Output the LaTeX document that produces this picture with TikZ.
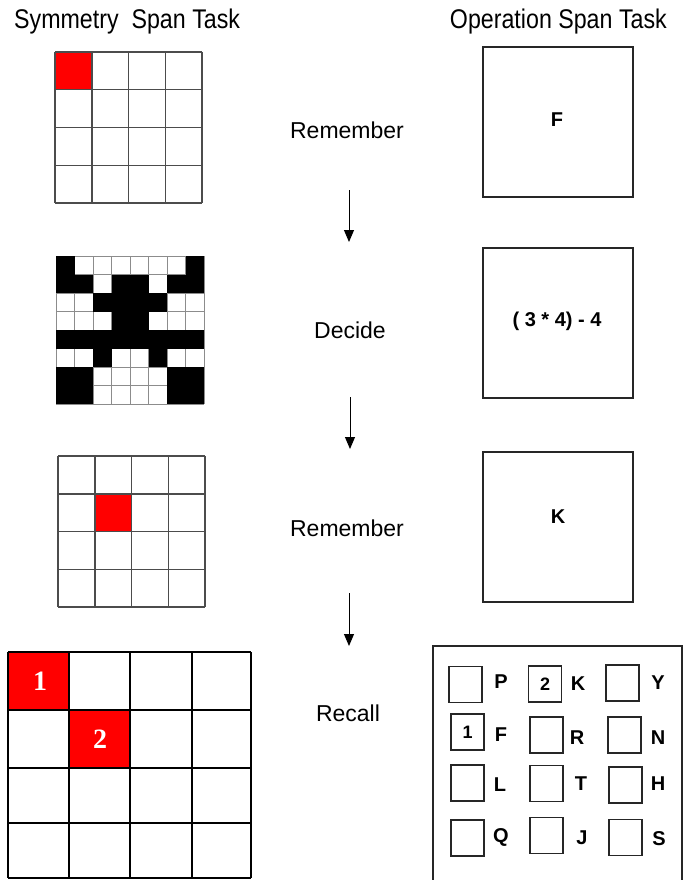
\documentclass[tikz,border=0pt]{standalone}
\usepackage{fontspec}
\setmainfont{Liberation Sans}
\newfontfamily\numserif{Liberation Serif}
\newfontfamily\hdrfont{Liberation Sans}[FakeStretch=0.86]
\usetikzlibrary{arrows.meta}
\begin{document}
\begin{tikzpicture}[x=1pt,y=-1pt,
  lbl/.style={font=\fontsize{23}{26}\selectfont, inner sep=0},
  hdr/.style={font=\hdrfont\fontsize{27}{30}\selectfont, inner sep=0},
  opbox/.style={draw=black!85, line width=1.6, minimum width=150, minimum height=150, inner sep=0},
  sbox/.style={draw=black!85, line width=1.6, minimum width=33, minimum height=36, inner sep=0, font=\bfseries\fontsize{18}{20}\selectfont},
  boxletter/.style={font=\bfseries\fontsize{20}{22}\selectfont, inner sep=0},
  gridnum/.style={font=\numserif\bfseries\fontsize{28}{30}\selectfont, text=white, inner sep=0},
  flow/.style={line width=1, -{Triangle[width=10pt,length=12pt]}},
  gridline/.style={draw=black!70, line width=1.5},
]
\useasboundingbox (0,0) rectangle (683,880);

% headers
\node[hdr, anchor=base west] (hsym) at (14,29) {Symmetry\ \ Span Task};
\node[hdr, anchor=base east] (hop) at (667,29) {Operation Span Task};

% grid 1
\fill[red] (55,52) rectangle (91.75,89.75);
\foreach \i in {0,...,4} {
  \draw[gridline] ({55+\i*36.75},52) -- ({55+\i*36.75},203);
  \draw[gridline] (55,{52+\i*37.75}) -- (202,{52+\i*37.75});
}

% symmetry grid
\begin{scope}[shift={(56,256)}, x=18.5pt, y=-18.5pt]
  \foreach \i in {0,...,8} {
    \draw[black!45, line width=1] (\i,0) -- (\i,8);
    \draw[black!45, line width=1] (0,\i) -- (8,\i);
  }
  \fill[black] (0,0) rectangle (1,2);
  \fill[black] (7,0) rectangle (8,2);
  \fill[black] (1,1) rectangle (2,2);
  \fill[black] (6,1) rectangle (7,2);
  \fill[black] (3,1) rectangle (5,2);
  \fill[black] (2,2) rectangle (6,3);
  \fill[black] (3,3) rectangle (5,4);
  \fill[black] (0,4) rectangle (8,5);
  \fill[black] (2,5) rectangle (3,6);
  \fill[black] (5,5) rectangle (6,6);
  \fill[black] (0,6) rectangle (2,8);
  \fill[black] (6,6) rectangle (8,8);
\end{scope}

% grid 3
\fill[red] (94.75,493.75) rectangle (131.5,531.5);
\foreach \i in {0,...,4} {
  \draw[gridline] ({58+\i*36.75},456) -- ({58+\i*36.75},607);
  \draw[gridline] (58,{456+\i*37.75}) -- (205,{456+\i*37.75});
}

% grid 4
\fill[red] (8,652) rectangle (69,710);
\fill[red] (69,710) rectangle (130,768);
\foreach \xx in {8,69,130,192,251} {
  \draw[black, line width=2] (\xx,652) -- (\xx,878);
}
\foreach \yy in {652,710,768,823,878} {
  \draw[black, line width=2] (8,\yy) -- (251,\yy);
}
\node[gridnum] (n1) at (40,681) {1};
\node[gridnum] (n2) at (100,739) {2};

% labels and arrows
\node[lbl] (rem1) at (347,130) {Remember};
\node[lbl] (dec) at (350,330) {Decide};
\node[lbl] (rem2) at (347,528) {Remember};
\node[lbl] (rec) at (348,713) {Recall};
\coordinate (a1s) at (349,190); \coordinate (a1e) at (349,242);
\coordinate (a2s) at (350,397); \coordinate (a2e) at (350,449);
\coordinate (a3s) at (349,593); \coordinate (a3e) at (349,646);
\draw[flow] (a1s) -- (a1e);
\draw[flow] (a2s) -- (a2e);
\draw[flow] (a3s) -- (a3e);

% operation boxes
\node[opbox] (op1) at (558,122) {};
\node[opbox] (op2) at (558,323) {};
\node[opbox] (op3) at (558,527) {};
\node[boxletter] (tF) at (557,120) {F};
\node[boxletter] (tEq) at (557,321) {( 3 * 4) - 4};
\node[boxletter] (tK) at (558,517) {K};

% recall panel
\draw[black!85, line width=1.6] (433,882) -- (433,646) -- (682,646) -- (682,882);
\node[sbox] (b11) at (465.5,684.5) {};
\node[sbox] (b12) at (545,684) {2};
\node[sbox] (b13) at (622.5,683) {};
\node[sbox] (b21) at (467.5,732) {1};
\node[sbox] (b22) at (546.5,735) {};
\node[sbox] (b23) at (624.5,735) {};
\node[sbox] (b31) at (467.5,783) {};
\node[sbox] (b32) at (546.5,783.5) {};
\node[sbox] (b33) at (625.5,785) {};
\node[sbox] (b41) at (467.5,838) {};
\node[sbox] (b42) at (546.5,835.5) {};
\node[sbox] (b43) at (625.5,837.5) {};
\node[boxletter] (lP) at (501,682) {P};
\node[boxletter] (lK) at (578,684) {K};
\node[boxletter] (lY) at (658,683) {Y};
\node[boxletter] (lF) at (501,735) {F};
\node[boxletter] (lR) at (577,738) {R};
\node[boxletter] (lN) at (658,738) {N};
\node[boxletter] (lL) at (500,785) {L};
\node[boxletter] (lT) at (581,784) {T};
\node[boxletter] (lH) at (658,784) {H};
\node[boxletter] (lQ) at (501,837) {Q};
\node[boxletter] (lJ) at (582,838) {J};
\node[boxletter] (lS) at (659,839) {S};
\end{tikzpicture}
\end{document}
